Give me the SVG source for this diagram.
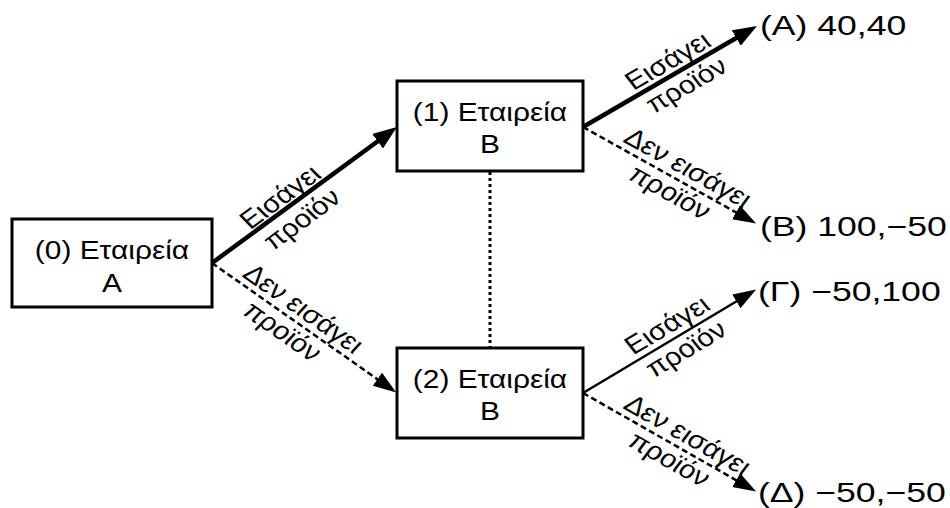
<svg xmlns="http://www.w3.org/2000/svg" width="950" height="508" viewBox="0 0 950 508">
  <style>
    .box { fill: #ffffff; stroke: #000000; stroke-width: 3; }
    .t { font-family: "Liberation Sans", Arial, sans-serif; font-size: 26px; fill: #000000; text-anchor: middle; }
    .pay { font-family: "Liberation Sans", Arial, sans-serif; font-size: 28px; fill: #000000; }
    .lbl { font-family: "Liberation Sans", Arial, sans-serif; font-size: 25.5px; fill: #000000; text-anchor: middle; }
    .thick { stroke: #000000; stroke-width: 4.5; fill: none; }
    .thin { stroke: #000000; stroke-width: 2.5; fill: none; }
    .dash { stroke: #000000; stroke-width: 2.5; fill: none; stroke-dasharray: 6 3.5; }
    .dot { stroke: #000000; stroke-width: 3; fill: none; stroke-dasharray: 3 3; }
  </style>
  <defs>
    <marker id="headBig" markerUnits="userSpaceOnUse" markerWidth="26" markerHeight="20" refX="12" refY="9" orient="auto">
      <path d="M0,0 L24,9 L0,18 z" fill="#000000"/>
    </marker>
    <marker id="head" markerUnits="userSpaceOnUse" markerWidth="24" markerHeight="18" refX="12" refY="8" orient="auto">
      <path d="M0,0 L23,8 L0,16 z" fill="#000000"/>
    </marker>
  </defs>

  <rect width="950" height="508" fill="#ffffff"/>

  <!-- connectors -->
  <g id="edges">
    <line class="dot" x1="490" y1="172" x2="490" y2="347"/>
    <line class="thick" x1="212" y1="263" x2="387.3" y2="134.2" marker-end="url(#headBig)"/>
    <line class="dash" x1="212" y1="263" x2="387.2" y2="386.1" marker-end="url(#head)"/>
    <line class="thick" x1="583" y1="127" x2="746.6" y2="32" marker-end="url(#headBig)"/>
    <line class="dash" x1="583" y1="127" x2="746.5" y2="218.2" marker-end="url(#head)"/>
    <line class="thin" x1="583" y1="393" x2="746.7" y2="295.2" marker-end="url(#head)"/>
    <line class="dash" x1="583" y1="393" x2="746.6" y2="486.1" marker-end="url(#head)"/>

    <!-- edge labels, laid along each connector -->
    <g transform="translate(291,208) scale(1.15,1) rotate(-40.4)">
      <text class="lbl" y="-6">Εισάγει</text>
      <text class="lbl" y="23">προϊόν</text>
    </g>
    <g transform="translate(293,320) scale(1.15,1) rotate(38.9)">
      <text class="lbl" y="-6">Δεν εισάγει</text>
      <text class="lbl" y="23">προϊόν</text>
    </g>
    <g transform="translate(677,73) scale(1.15,1) rotate(-33.7)">
      <text class="lbl" y="-6">Εισάγει</text>
      <text class="lbl" y="23">προϊόν</text>
    </g>
    <g transform="translate(679,180) scale(1.15,1) rotate(32.6)">
      <text class="lbl" y="-6">Δεν εισάγει</text>
      <text class="lbl" y="23">προϊόν</text>
    </g>
    <g transform="translate(676.5,337) scale(1.15,1) rotate(-34.5)">
      <text class="lbl" y="-6">Εισάγει</text>
      <text class="lbl" y="23">προϊόν</text>
    </g>
    <g transform="translate(678.5,447) scale(1.15,1) rotate(33.2)">
      <text class="lbl" y="-6">Δεν εισάγει</text>
      <text class="lbl" y="23">προϊόν</text>
    </g>
  </g>

  <!-- decision nodes -->
  <g id="node0">
    <rect class="box" x="12" y="219" width="200" height="88"/>
    <g transform="translate(112,0) scale(1.15,1)">
      <text class="t" x="0" y="259">(0) Εταιρεία</text>
      <text class="t" x="0" y="292">A</text>
    </g>
  </g>
  <g id="node1">
    <rect class="box" x="397" y="81" width="186" height="90"/>
    <g transform="translate(490,0) scale(1.15,1)">
      <text class="t" x="0" y="121">(1) Εταιρεία</text>
      <text class="t" x="0" y="153">B</text>
    </g>
  </g>
  <g id="node2">
    <rect class="box" x="397" y="348" width="186" height="90"/>
    <g transform="translate(490,0) scale(1.15,1)">
      <text class="t" x="0" y="388">(2) Εταιρεία</text>
      <text class="t" x="0" y="420">B</text>
    </g>
  </g>

  <!-- outcomes -->
  <g id="outA" transform="translate(760,35) scale(1.27,1)"><text class="pay">(A) 40,40</text></g>
  <g id="outB" transform="translate(760,236) scale(1.27,1)"><text class="pay">(B) 100,−50</text></g>
  <g id="outG" transform="translate(758,301) scale(1.27,1)"><text class="pay">(Γ) −50,100</text></g>
  <g id="outD" transform="translate(758,502) scale(1.27,1)"><text class="pay">(Δ) −50,−50</text></g>
</svg>
